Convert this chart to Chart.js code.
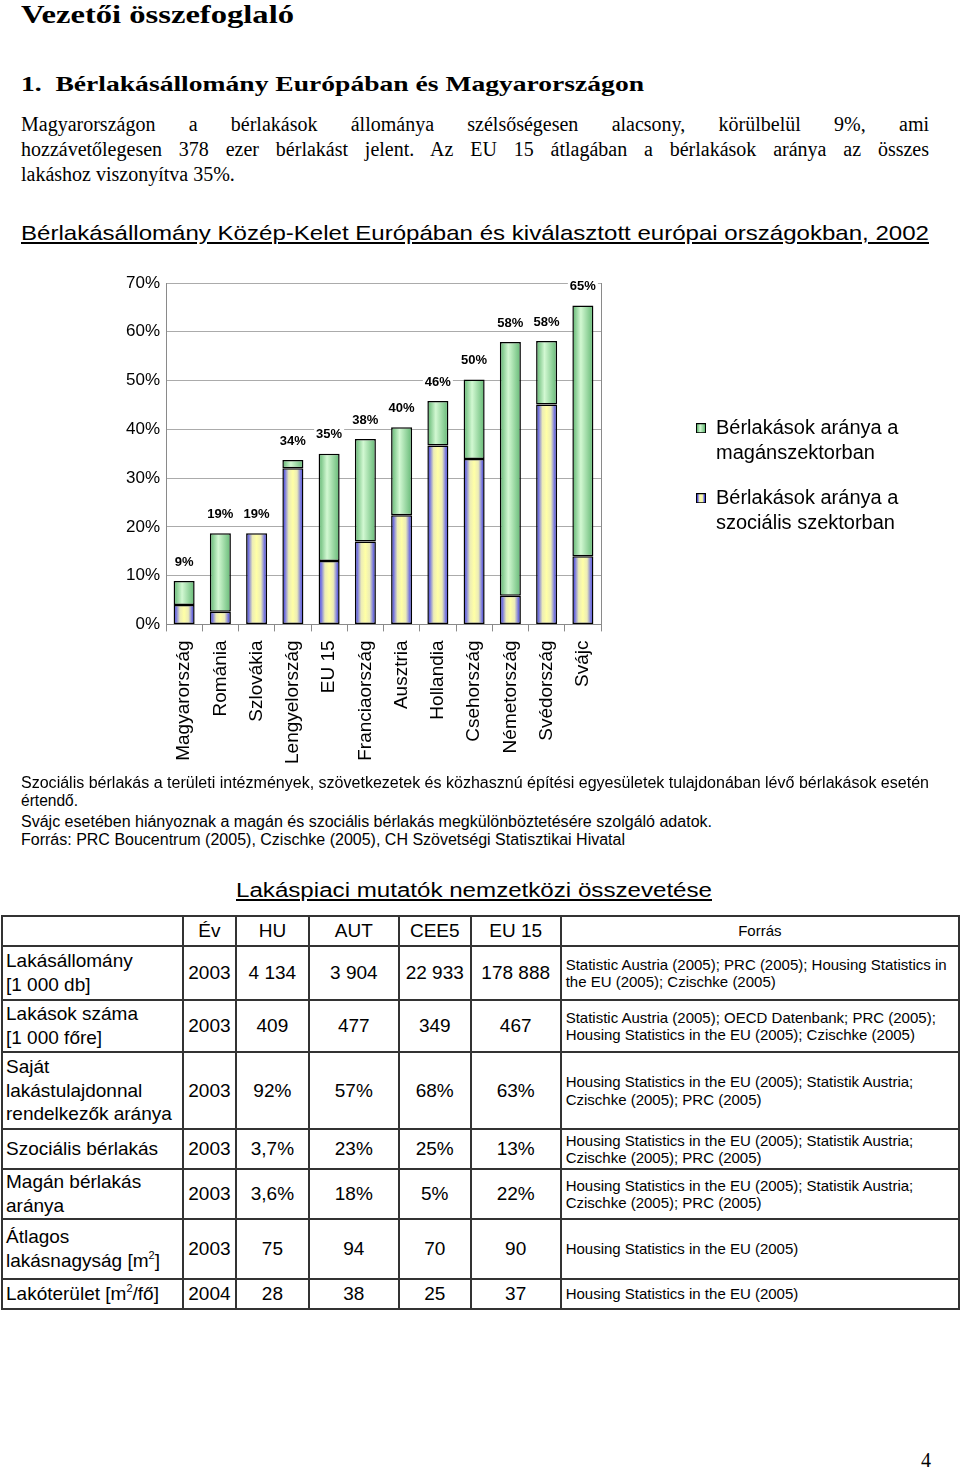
<!DOCTYPE html>
<html lang="hu">
<head>
<meta charset="utf-8">
<title>Vezetői összefoglaló</title>
<script src="https://cdn.jsdelivr.net/npm/chart.js@4.4.1/dist/chart.umd.min.js"></script>
<style>
  html, body { margin: 0; padding: 0; background: #fff; }
  body { width: 960px; height: 1469px; position: relative; overflow: hidden; color: #000; }
  .abs { position: absolute; white-space: nowrap; line-height: 1; transform-origin: 0 0; }
  .serif { font-family: "Liberation Serif", "Times New Roman", serif; }
  .sans { font-family: "Liberation Sans", Arial, sans-serif; }
  .u { text-decoration: underline; text-decoration-thickness: 1.5px; text-underline-offset: 2px; }
  .para { position: absolute; left: 21px; width: 908px; font-size: 20px; line-height: 1; }
  .just { text-align: justify; text-align-last: justify; }
  #chartBox { position: absolute; left: 0; top: 262px; width: 960px; height: 520px; }
  table { position: absolute; left: 1px; top: 915px; border-collapse: collapse; table-layout: fixed;
          font-family: "Liberation Sans", Arial, sans-serif; font-size: 19px; }
  td { border: 2px solid #333; padding: 0 3px; text-align: center; vertical-align: middle; line-height: 1.25; }
  td.l { text-align: left; }
  td.src { text-align: left; font-size: 15px; line-height: 1.15; padding-left: 4px; }
  sup { font-size: 11px; line-height: 0; vertical-align: 8px; }
</style>
</head>
<body>

<div class="abs serif" data-w="273" style="left:21px; top:2px; font-size:26px; font-weight:bold;">Vezetői összefoglaló</div>
<div class="abs serif" data-w="623" style="left:21px; top:73px; font-size:22px; font-weight:bold;">1.&nbsp; Bérlakásállomány Európában és Magyarországon</div>

<div class="para serif just" style="top:114px;">Magyarországon a bérlakások állománya szélsőségesen alacsony, körülbelül 9%, ami</div>
<div class="para serif just" style="top:139px;">hozzávetőlegesen 378 ezer bérlakást jelent. Az EU 15 átlagában a bérlakások aránya az összes</div>
<div class="para serif" style="top:164px;">lakáshoz viszonyítva 35%.</div>

<div class="abs sans u" data-w="908" style="left:21px; top:222px; font-size:21px;">Bérlakásállomány Közép-Kelet Európában és kiválasztott európai országokban, 2002</div>

<div id="chartBox"><canvas id="rentChart" width="960" height="520"></canvas></div>

<div class="abs sans" data-w="908" style="left:21px; top:775px; font-size:16px;">Szociális bérlakás a területi intézmények, szövetkezetek és közhasznú építési egyesületek tulajdonában lévő bérlakások esetén</div>
<div class="abs sans" data-w="57" style="left:21px; top:793px; font-size:16px;">értendő.</div>
<div class="abs sans" data-w="691" style="left:21px; top:814px; font-size:16px;">Svájc esetében hiányoznak a magán és szociális bérlakás megkülönböztetésére szolgáló adatok.</div>
<div class="abs sans" data-w="604" style="left:21px; top:832px; font-size:16px;">Forrás: PRC Boucentrum (2005), Czischke (2005), CH Szövetségi Statisztikai Hivatal</div>

<div class="abs sans u" data-w="476" style="left:236px; top:880px; font-size:20px;">Lakáspiaci mutatók nemzetközi összevetése</div>

<table>
  <colgroup>
    <col style="width:181px"><col style="width:53px"><col style="width:73px"><col style="width:90px">
    <col style="width:72px"><col style="width:90px"><col style="width:399px">
  </colgroup>
  <tr style="height:30px"><td></td><td>Év</td><td>HU</td><td>AUT</td><td>CEE5</td><td>EU 15</td><td style="font-size:15px">Forrás</td></tr>
  <tr style="height:54px"><td class="l">Lakásállomány<br>[1 000 db]</td><td>2003</td><td>4 134</td><td>3 904</td><td>22 933</td><td>178 888</td>
    <td class="src">Statistic Austria (2005); PRC (2005); Housing Statistics in<br>the EU (2005); Czischke (2005)</td></tr>
  <tr style="height:52px"><td class="l">Lakások száma<br>[1 000 főre]</td><td>2003</td><td>409</td><td>477</td><td>349</td><td>467</td>
    <td class="src">Statistic Austria (2005); OECD Datenbank; PRC (2005);<br>Housing Statistics in the EU (2005); Czischke (2005)</td></tr>
  <tr style="height:77px"><td class="l">Saját<br>lakástulajdonnal<br>rendelkezők aránya</td><td>2003</td><td>92%</td><td>57%</td><td>68%</td><td>63%</td>
    <td class="src">Housing Statistics in the EU (2005); Statistik Austria;<br>Czischke (2005); PRC (2005)</td></tr>
  <tr style="height:40px"><td class="l">Szociális bérlakás</td><td>2003</td><td>3,7%</td><td>23%</td><td>25%</td><td>13%</td>
    <td class="src">Housing Statistics in the EU (2005); Statistik Austria;<br>Czischke (2005); PRC (2005)</td></tr>
  <tr style="height:47px"><td class="l">Magán bérlakás<br>aránya</td><td>2003</td><td>3,6%</td><td>18%</td><td>5%</td><td>22%</td>
    <td class="src">Housing Statistics in the EU (2005); Statistik Austria;<br>Czischke (2005); PRC (2005)</td></tr>
  <tr style="height:60px"><td class="l">Átlagos<br>lakásnagyság [m<sup>2</sup>]</td><td>2003</td><td>75</td><td>94</td><td>70</td><td>90</td>
    <td class="src">Housing Statistics in the EU (2005)</td></tr>
  <tr style="height:30px"><td class="l">Lakóterület [m<sup>2</sup>/fő]</td><td>2004</td><td>28</td><td>38</td><td>25</td><td>37</td>
    <td class="src">Housing Statistics in the EU (2005)</td></tr>
</table>

<div class="abs serif" style="left:921px; top:1450px; font-size:20px;">4</div>

<script>
// ---- chart data ----
const countries = ['Magyarország', 'Románia', 'Szlovákia', 'Lengyelország', 'EU 15', 'Franciaország',
                   'Ausztria', 'Hollandia', 'Csehország', 'Németország', 'Svédország', 'Svájc'];
const socialShare  = [4.0, 2.6, 18.7, 32.0, 13.0, 17.0, 22.4, 36.7, 33.9, 5.9, 45.1, 14.0];
const privateShare = [4.9, 16.1, 0.0, 1.7, 22.0, 21.0, 18.0, 9.1, 16.3, 52.0, 13.0, 51.4];
const yTicks = [0, 10, 20, 30, 40, 50, 60, 70];
const socialLegend  = ['Bérlakások aránya a', 'szociális szektorban'];
const privateLegend = ['Bérlakások aránya a', 'magánszektorban'];

// ---- styles ----
const FONT = '"Liberation Sans", Arial, sans-serif';
const BAR_FRAC = 0.58;
const socialStops  = [[0, '#2828ce'], [0.13, '#7a7ade'], [0.3, '#ececb6'], [0.5, '#ffffa6'],
                      [0.7, '#ececb6'], [0.87, '#7a7ade'], [1, '#2828ce']];
const privateStops = [[0, '#5db46e'], [0.4, '#d2f8d2'], [1, '#63b874']];

Chart.defaults.font.family = FONT;
Chart.defaults.color = '#000';

function barFill(stops) {
    return (c) => {
        const chart = c.chart;
        if (!chart.chartArea || c.dataIndex === undefined) return stops[1][1];
        const xs = chart.scales.x;
        const cx = xs.getPixelForValue(c.dataIndex);
        const half = xs.width / countries.length * BAR_FRAC / 2;
        const g = chart.ctx.createLinearGradient(cx - half, 0, cx + half, 0);
        stops.forEach(([o, col]) => g.addColorStop(o, col));
        return g;
    };
}

function swatch(stops) {
    const c = document.createElement('canvas');
    c.width = 10; c.height = 10;
    const g = c.getContext('2d');
    const grad = g.createLinearGradient(1, 0, 9, 0);
    stops.forEach(([o, col]) => grad.addColorStop(o, col));
    g.fillStyle = grad;
    g.fillRect(1, 1, 8, 8);
    g.strokeStyle = '#000';
    g.lineWidth = 1;
    g.strokeRect(0.5, 0.5, 9, 9);
    return c;
}
const swatches = [swatch(socialStops), swatch(privateStops)];

// total % above every stacked column, on a white patch like the original
const totalLabels = {
    id: 'totalLabels',
    afterDatasetsDraw(chart) {
        const { ctx, scales: { x, y } } = chart;
        ctx.save();
        ctx.font = 'bold 13px ' + FONT;
        ctx.textAlign = 'center';
        ctx.textBaseline = 'middle';
        countries.forEach((c, i) => {
            const total = socialShare[i] + privateShare[i];
            const px = x.getPixelForValue(i);
            const py = y.getPixelForValue(total) - 19;
            const txt = Math.round(total) + '%';
            const w = ctx.measureText(txt).width;
            ctx.fillStyle = '#fff';
            ctx.fillRect(px - w / 2 - 2, py - 7, w + 4, 14);
            ctx.fillStyle = '#000';
            ctx.fillText(txt, px, py);
        });
        ctx.restore();
    }
};

new Chart(document.getElementById('rentChart').getContext('2d'), {
    type: 'bar',
    data: {
        labels: countries,
        datasets: [
            { label: socialLegend.join(' '), data: socialShare, backgroundColor: barFill(socialStops),
              borderColor: '#000', borderWidth: 1.5, borderSkipped: false },
            { label: privateLegend.join(' '), data: privateShare, backgroundColor: barFill(privateStops),
              borderColor: '#000', borderWidth: 1.5, borderSkipped: false }
        ]
    },
    options: {
        responsive: false,
        animation: false,
        categoryPercentage: 1,
        barPercentage: BAR_FRAC,
        layout: { padding: { top: 21, left: 100, right: 54, bottom: 9 } },
        scales: {
            x: {
                stacked: true,
                ticks: { color: '#000', font: { size: 19 }, minRotation: 90, maxRotation: 90, padding: 9, autoSkip: false },
                grid: { display: true, drawOnChartArea: false, drawTicks: true, tickLength: 7, color: '#8a8a8a', offset: true },
                border: { display: true, color: '#8a8a8a' }
            },
            y: {
                stacked: true, min: 0, max: 70,
                afterBuildTicks: (s) => { s.ticks = yTicks.map(v => ({ value: v })); },
                ticks: { color: '#000', font: { size: 17 }, padding: 6, callback: (v) => v + '%' },
                grid: { color: '#ababab', drawTicks: false },
                border: { display: true, color: '#8a8a8a' },
                afterFit: (s) => { s.width = 66; }
            },
            yFrame: {
                position: 'right', min: 0, max: 70,
                ticks: { display: false },
                grid: { drawOnChartArea: false, drawTicks: false },
                border: { display: true, color: '#8a8a8a' },
                afterFit: (s) => { s.width = 75; }
            }
        },
        plugins: {
            title: { display: false },
            tooltip: { enabled: false },
            legend: {
                position: 'right',
                align: 'start',
                maxWidth: 230,
                title: { display: true, text: ' ', font: { size: 1 }, padding: { top: 114, bottom: 0 } },
                labels: {
                    color: '#000',
                    font: { size: 20, lineHeight: 1.25 },
                    padding: 20,
                    boxWidth: 10,
                    boxHeight: 10,
                    usePointStyle: true,
                    generateLabels: () => [
                        { text: privateLegend, datasetIndex: 1, pointStyle: swatches[1], fillStyle: '#fff', strokeStyle: '#000', lineWidth: 0, hidden: false },
                        { text: socialLegend, datasetIndex: 0, pointStyle: swatches[0], fillStyle: '#fff', strokeStyle: '#000', lineWidth: 0, hidden: false }
                    ]
                }
            }
        }
    },
    plugins: [totalLabels]
});

// stretch single-line texts to the widths they have on the page
document.querySelectorAll('[data-w]').forEach(el => {
    const w = el.getBoundingClientRect().width;
    if (w > 0) el.style.transform = 'scaleX(' + (el.dataset.w / w) + ')';
});
</script>
</body>
</html>
